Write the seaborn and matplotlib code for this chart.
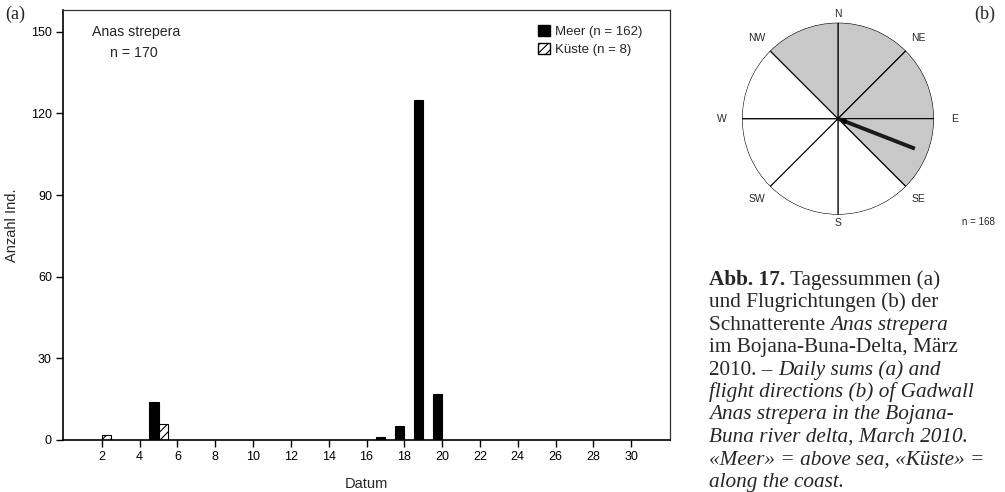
import numpy as np
import pandas as pd
import matplotlib
matplotlib.use("Agg")
import matplotlib.pyplot as plt
from matplotlib.patches import Patch
import seaborn as sns

# daily sums, March 2010
days_meer = [5, 17, 18, 19, 20]
counts_meer = [14, 1, 5, 125, 17]
days_kueste = [2, 5]
counts_kueste = [2, 6]
x_ticks = list(range(2, 31, 2))
y_ticks = [0, 30, 60, 90, 120, 150]

# flight directions (compass sectors, shaded = birds observed)
sector_centers = [22.5, 67.5, 112.5, 157.5, 202.5, 247.5, 292.5, 337.5]
sector_shaded = [True, True, True, False, False, False, False, True]
compass_labels = ["N", "NE", "E", "SE", "S", "SW", "W", "NW"]
compass_angles = [0, 45, 90, 135, 180, 225, 270, 315]
mean_dir = 111.3
mean_len = 0.86

df = pd.concat([
    pd.DataFrame({"Datum": days_meer, "Anzahl": counts_meer, "Serie": "Meer"}),
    pd.DataFrame({"Datum": days_kueste, "Anzahl": counts_kueste, "Serie": "Küste"}),
])

sns.set_style("ticks")
plt.rcParams["font.family"] = ["Liberation Sans", "DejaVu Sans"]
plt.rcParams["hatch.linewidth"] = 0.8

fig = plt.figure(figsize=(10.05, 4.92), dpi=100)
ax = fig.add_axes([0.0627, 0.1057, 0.6040, 0.874])

sns.barplot(data=df, x="Datum", y="Anzahl", hue="Serie", hue_order=["Meer", "Küste"],
            palette={"Meer": "black", "Küste": "white"}, native_scale=True, width=1.0,
            dodge=True, saturation=1, edgecolor="black", linewidth=0.8, legend=False,
            errorbar=None, ax=ax)
for bar in ax.containers[1]:
    bar.set_hatch("////")

ax.set_xlim(-0.05, 32.05)
ax.set_ylim(0, 158)
ax.set_xticks(x_ticks)
ax.set_yticks(y_ticks)
ax.tick_params(labelsize=9, length=5, width=1, colors="black", pad=3)
for s in ["left", "bottom"]:
    ax.spines[s].set_linewidth(1.2)
    ax.spines[s].set_color("black")
for s in ["top", "right"]:
    ax.spines[s].set_visible(True)
    ax.spines[s].set_linewidth(0.9)
    ax.spines[s].set_color("#333333")
ax.set_xlabel("Datum", fontsize=10.5)
ax.set_ylabel("Anzahl Ind.", fontsize=10.5)
ax.xaxis.set_label_coords(0.5, -0.086)
ax.yaxis.set_label_coords(-0.072, 0.5)

ax.text(0.048, 0.949, "Anas strepera", transform=ax.transAxes, fontsize=10.2, va="center")
ax.text(0.078, 0.900, "n = 170", transform=ax.transAxes, fontsize=10.2, va="center")

handles = [Patch(facecolor="black", edgecolor="black"),
           Patch(facecolor="white", edgecolor="black", hatch="////")]
ax.legend(handles, ["Meer (n = 162)", "Küste (n = 8)"], loc="upper left",
          bbox_to_anchor=(0.783, 0.965), frameon=False, fontsize=9.5,
          handlelength=0.9, handleheight=0.9, handletextpad=0.4,
          labelspacing=0.35, borderpad=0, borderaxespad=0)

# rose diagram
ax2 = fig.add_axes([0.7383, 0.5637, 0.1910, 0.3902], projection="polar")
ax2.set_theta_zero_location("N")
ax2.set_theta_direction(-1)
ax2.bar(np.deg2rad(sector_centers), 1.0, width=np.pi / 4,
        color=["#c8c8c8" if s else "white" for s in sector_shaded],
        edgecolor="black", linewidth=0.8)
ax2.plot([np.deg2rad(mean_dir)] * 2, [0, mean_len], color="#1a1a1a", lw=2.8,
         solid_capstyle="butt")
ax2.annotate("", xy=(0, 0), xytext=(np.deg2rad(mean_dir), 0.12),
             arrowprops=dict(arrowstyle="-|>", color="black", lw=1, mutation_scale=7))
ax2.set_ylim(0, 1)
ax2.axis("off")
for lab, ang in zip(compass_labels, compass_angles):
    r = 1.09 if ang in (0, 180) else (1.21 if ang in (90, 270) else 1.19)
    ax2.text(np.deg2rad(ang), r, lab, ha="center", va="center", fontsize=7.5)

fig.text(978 / 1005, 1 - 222 / 492, "n = 168", ha="center", va="center", fontsize=7)

serif = ["Liberation Serif", "DejaVu Serif"]
fig.text(15 / 1005, 1 - 14 / 492, "(a)", family=serif, fontsize=13, ha="center", va="center")
fig.text(985 / 1005, 1 - 14 / 492, "(b)", family=serif, fontsize=13, ha="center", va="center")

# caption
caption = [
    [("Abb. 17.", "bold"), (" Tagessummen (a)", "normal")],
    [("und Flugrichtungen (b) der", "normal")],
    [("Schnatterente ", "normal"), ("Anas strepera", "italic")],
    [("im Bojana-Buna-Delta, März", "normal")],
    [("2010. – ", "normal"), ("Daily sums (a) and", "italic")],
    [("flight directions (b) of Gadwall", "italic")],
    [("Anas strepera in the Bojana-", "italic")],
    [("Buna river delta, March 2010.", "italic")],
    [("«Meer» = above sea, «Küste» =", "italic")],
    [("along the coast.", "italic")],
]


def style(kind):
    kw = dict(family=serif, fontsize=15.3)
    if kind == "bold":
        kw["weight"] = "bold"
    elif kind == "italic":
        kw["style"] = "italic"
    return kw


for i, parts in enumerate(caption):
    y = 1 - (285 + 22.4 * i) / 492
    t = fig.text(709 / 1005, y, parts[0][0], va="baseline", ha="left", **style(parts[0][1]))
    for s, kind in parts[1:]:
        t = ax.annotate(s, xy=(1, 0), xycoords=t, va="bottom", ha="left",
                        annotation_clip=False, **style(kind))

fig.savefig("out.png", dpi=100)
